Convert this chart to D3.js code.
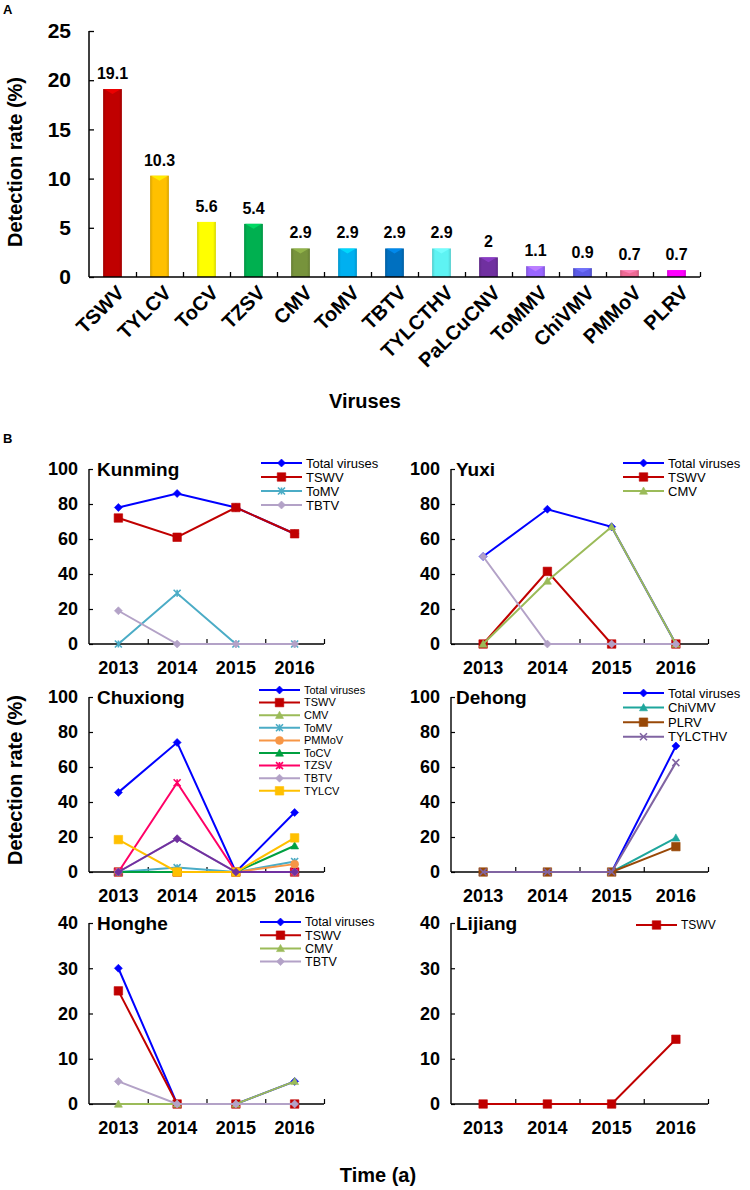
<!DOCTYPE html>
<html><head><meta charset="utf-8">
<script src="https://cdn.jsdelivr.net/npm/d3@7"></script>
<style>
body{margin:0;background:#fff;}
svg{display:block;font-family:"Liberation Sans",Arial,sans-serif;}
</style></head>
<body><svg id="c" width="750" height="1190"></svg>
<script>
// ---------- Panel A data ----------
const virusNames = ["TSWV","TYLCV","ToCV","TZSV","CMV","ToMV","TBTV","TYLCTHV","PaLCuCNV","ToMMV","ChiVMV","PMMoV","PLRV"];
const virusRates = [19.1,10.3,5.6,5.4,2.9,2.9,2.9,2.9,2,1.1,0.9,0.7,0.7];
const barColors = ["#C00000","#FFC000","#FFFF00","#00B050","#77933C","#00B0F0","#0070C0","#5EF3F3","#7030A0","#9966FF","#5B5BE6","#EE6A94","#FF00FF"];
const yTicksA = [0,5,10,15,20,25];

// ---------- Panel B data ----------
const years = ["2013","2014","2015","2016"];
const kunmingTotal = [78, 86, 78, 63];
const kunmingTSWV = [72, 61, 78, 63];
const kunmingToMV = [0, 29, 0, 0];
const kunmingTBTV = [19, 0, 0, 0];

const yuxiTotal = [50, 77, 67, 0];
const yuxiTSWV = [0, 41.5, 0, 0];
const yuxiCMV = [0, 36, 67, 0];
const yuxiTBTV = [50, 0, 0, 0];

const chuxiongTotal = [45.5, 74, 0, 34];
const chuxiongTSWV = [0, 0, 0, 0];
const chuxiongCMV = [0, 0, 0, 0];
const chuxiongToMV = [0, 2.5, 0, 6];
const chuxiongPMMoV = [0, 0, 0, 4.5];
const chuxiongToCV = [0, 0, 0, 15];
const chuxiongTZSV = [0, 51, 0, 0];
const chuxiongTBTV = [0, 19, 0, 0];
const chuxiongTYLCV = [18.5, 0, 0, 19.5];
const chuxiongPaLCuCNV = [0, 19, 0, 0];

const dehongTotal = [0, 0, 0, 72];
const dehongChiVMV = [0, 0, 0, 19.5];
const dehongPLRV = [0, 0, 0, 14.5];
const dehongTYLCTHV = [0, 0, 0, 62.5];

const hongheTotal = [30, 0, 0, 5];
const hongheTSWV = [25, 0, 0, 0];
const hongheCMV = [0, 0, 0, 5];
const hongheTBTV = [5, 0, 0, 0];

const lijiangTSWV = [0, 0, 0, 14.3];

const ticks100 = [0,20,40,60,80,100];
const ticks40 = [0,10,20,30,40];

// series styles
const style = {
  "Total viruses": {color:"#0000FF", marker:"diamond"},
  "TSWV": {color:"#C00000", marker:"square"},
  "CMV": {color:"#9BBB59", marker:"triangle"},
  "ToMV": {color:"#4BACC6", marker:"star"},
  "PMMoV": {color:"#F79646", marker:"circle"},
  "ToCV": {color:"#00A040", marker:"triangle"},
  "TZSV": {color:"#FF0066", marker:"star"},
  "TBTV": {color:"#B3A2C7", marker:"diamond"},
  "TYLCV": {color:"#FFC000", marker:"square"},
  "PaLCuCNV": {color:"#7030A0", marker:"diamond"},
  "ChiVMV": {color:"#1EA69C", marker:"triangle"},
  "PLRV": {color:"#984807", marker:"square"},
  "TYLCTHV": {color:"#8064A2", marker:"x"}
};

const panels = [
  {title:"Kunming", col:0, row:0, max:100, ticks:ticks100,
   series:[["Total viruses",kunmingTotal,true],["TSWV",kunmingTSWV,true],["ToMV",kunmingToMV,true],["TBTV",kunmingTBTV,true]]},
  {title:"Yuxi", col:1, row:0, max:100, ticks:ticks100,
   series:[["Total viruses",yuxiTotal,true],["TSWV",yuxiTSWV,true],["CMV",yuxiCMV,true],["TBTV",yuxiTBTV,false]]},
  {title:"Chuxiong", col:0, row:1, max:100, ticks:ticks100,
   series:[["Total viruses",chuxiongTotal,true],["TSWV",chuxiongTSWV,true],["CMV",chuxiongCMV,true],["ToMV",chuxiongToMV,true],["PMMoV",chuxiongPMMoV,true],["ToCV",chuxiongToCV,true],["TZSV",chuxiongTZSV,true],["TBTV",chuxiongTBTV,true],["TYLCV",chuxiongTYLCV,true],["PaLCuCNV",chuxiongPaLCuCNV,false]]},
  {title:"Dehong", col:1, row:1, max:100, ticks:ticks100,
   series:[["Total viruses",dehongTotal,true],["ChiVMV",dehongChiVMV,true],["PLRV",dehongPLRV,true],["TYLCTHV",dehongTYLCTHV,true]]},
  {title:"Honghe", col:0, row:2, max:40, ticks:ticks40,
   series:[["Total viruses",hongheTotal,true],["TSWV",hongheTSWV,true],["CMV",hongheCMV,true],["TBTV",hongheTBTV,true]]},
  {title:"Lijiang", col:1, row:2, max:40, ticks:ticks40,
   series:[["TSWV",lijiangTSWV,true]]}
];

const svg = d3.select("#c");
const defs = svg.append("defs");

// ============ Panel A ============
svg.append("text").attr("x",3).attr("y",14).attr("font-size",13).attr("font-weight","bold").text("A");

const xA = d3.scaleBand().domain(virusNames).range([89,700]).paddingInner(0.6).paddingOuter(0.3);
const yA = d3.scaleLinear().domain([0,25]).range([277,31]);
const gA = svg.append("g");

barColors.forEach((c,i)=>{
  const g = defs.append("linearGradient").attr("id","bg"+i).attr("x1","0").attr("x2","1").attr("y1","0").attr("y2","0");
  const base = d3.color(c);
  g.append("stop").attr("offset","0").attr("stop-color", base.darker(0.5));
  g.append("stop").attr("offset","0.15").attr("stop-color", base);
  g.append("stop").attr("offset","0.85").attr("stop-color", base);
  g.append("stop").attr("offset","1").attr("stop-color", base.darker(0.5));
});

gA.selectAll("rect.bar").data(virusNames).join("rect").attr("class","bar")
  .attr("x",d=>xA(d)).attr("width",xA.bandwidth())
  .attr("y",(d,i)=>yA(virusRates[i])).attr("height",(d,i)=>yA(0)-yA(virusRates[i]))
  .attr("fill",(d,i)=>`url(#bg${i})`);
gA.selectAll("path.hl").data(virusNames).join("path").attr("class","hl")
  .attr("d",(d,i)=>{
    const x0=xA(d), w=xA.bandwidth(), y0=yA(virusRates[i]);
    const h=Math.min(5, (yA(0)-y0)/2);
    return `M${x0+1},${y0}L${x0+w-1},${y0}L${x0+w/2},${y0+h}Z`;
  })
  .attr("fill",(d,i)=>d3.color(barColors[i]).brighter(0.7)).attr("opacity",0.8);

gA.selectAll("text.val").data(virusNames).join("text").attr("class","val")
  .attr("x",d=>xA(d)+xA.bandwidth()/2).attr("y",(d,i)=>yA(virusRates[i])-10)
  .attr("text-anchor","middle").attr("font-size",16).attr("font-weight","bold")
  .text((d,i)=>virusRates[i]);

const yAxA = gA.append("g").attr("transform","translate(89,0)")
  .call(d3.axisLeft(yA).tickValues(yTicksA).tickSize(-5).tickPadding(18).tickFormat(d3.format("d")));
yAxA.select(".domain").attr("stroke","#000").attr("stroke-width",1.5).attr("d","M0,31V277");
yAxA.selectAll("text").attr("font-size",21).attr("font-weight","bold").attr("fill","#000").attr("font-family","Liberation Sans, Arial, sans-serif");
yAxA.selectAll("line").attr("stroke-width",1.3);

const idxA = d3.scaleLinear().domain([0,virusNames.length]).range([89,700]);
const xAxA = gA.append("g").attr("transform","translate(0,277)")
  .call(d3.axisBottom(idxA).tickValues(d3.range(1,virusNames.length+1)).tickSize(-5).tickFormat(""));
xAxA.select(".domain").attr("stroke-width",1.5).attr("d","M89,0H700");
xAxA.selectAll("line").attr("stroke-width",1.3);

gA.selectAll("text.cat").data(virusNames).join("text").attr("class","cat")
  .attr("transform",d=>`translate(${xA(d)+xA.bandwidth()/2+8},${289}) rotate(-45)`)
  .attr("text-anchor","end").attr("dy","0.35em").attr("font-size",20).attr("font-weight","bold")
  .text(d=>d);

svg.append("text").attr("transform","translate(22,162) rotate(-90)").attr("text-anchor","middle")
  .attr("font-size",20).attr("font-weight","bold").text("Detection rate (%)");
svg.append("text").attr("x",365).attr("y",408).attr("text-anchor","middle")
  .attr("font-size",20).attr("font-weight","bold").text("Viruses");

// ============ Panel B ============
svg.append("text").attr("x",3).attr("y",443).attr("font-size",13).attr("font-weight","bold").text("B");

const colX = [[89,324],[451,708]];
const rowY = [[469,644],[697,872],[923,1104]];
const legendPos = [
  {x:261, y:463, dy:14, fs:13},{x:623, y:463, dy:14, fs:13},
  {x:259, y:690, dy:12.6, fs:11},{x:623, y:693, dy:14.6, fs:13},
  {x:260, y:922, dy:13.2, fs:12.5},{x:636, y:925, dy:14, fs:12}
];

function markerPath(type, s){
  const h=s/2;
  switch(type){
    case "diamond": return `M0,${-h}L${h},0L0,${h}L${-h},0Z`;
    case "square": return `M${-h},${-h}H${h}V${h}H${-h}Z`;
    case "triangle": return `M0,${-h}L${h},${h*0.8}L${-h},${h*0.8}Z`;
    case "circle": return d3.symbol(d3.symbolCircle, Math.PI*h*h)();
    case "star": return `M${-h},${-h}L${h},${h}M${h},${-h}L${-h},${h}M0,${-h}V${h}`;
    case "x": return `M${-h},${-h}L${h},${h}M${h},${-h}L${-h},${h}`;
  }
}
const markerSize = {diamond:8, square:8.5, triangle:8, circle:8, star:7, x:7};
function drawMarker(g, name, x, y){
  const st = style[name];
  const stroke = (st.marker==="star"||st.marker==="x");
  g.append("path").attr("transform",`translate(${x},${y})`)
    .attr("d",markerPath(st.marker, markerSize[st.marker]))
    .attr("fill", stroke?"none":st.color)
    .attr("stroke", st.color).attr("stroke-width", stroke?1.6:0.6);
}

panels.forEach((p,pi)=>{
  const [x0,x1] = colX[p.col];
  const [yt,yb] = rowY[p.row];
  const g = svg.append("g");
  const x = d3.scaleBand().domain(years).range([x0,x1]);
  const y = d3.scaleLinear().domain([0,p.max]).range([yb,yt]);
  const idx = d3.scaleLinear().domain([0,years.length]).range([x0,x1]);

  const ya = g.append("g").attr("transform",`translate(${x0},0)`)
    .call(d3.axisLeft(y).tickValues(p.ticks).tickSize(-4).tickPadding(11));
  ya.select(".domain").attr("stroke-width",1.4).attr("d",`M0,${yt}V${yb}`);
  ya.selectAll("line").attr("stroke-width",1.2);
  ya.selectAll("text").attr("font-size",18).attr("font-weight","bold").attr("fill","#000").attr("font-family","Liberation Sans, Arial, sans-serif");

  const xa = g.append("g").attr("transform",`translate(0,${yb})`)
    .call(d3.axisBottom(idx).tickValues(d3.range(1,years.length+1)).tickSize(-5).tickFormat(""));
  xa.select(".domain").attr("stroke-width",1.4).attr("d",`M${x0},0H${x1}`);
  xa.selectAll("line").attr("stroke-width",1.2);
  const xl = g.append("g").attr("transform",`translate(0,${yb})`)
    .call(d3.axisBottom(x).tickSize(0).tickPadding(17));
  xl.select(".domain").remove();
  xl.selectAll("text").attr("font-size",18).attr("font-weight","bold").attr("fill","#000").attr("font-family","Liberation Sans, Arial, sans-serif");

  g.append("text").attr("x",x0+ (p.col===0?8:5)).attr("y",yt+7).attr("font-size",19).attr("font-weight","bold").text(p.title);

  const line = d3.line().x((d,i)=>x(years[i])+x.bandwidth()/2).y(d=>y(d));
  p.series.forEach(([name,vals])=>{
    const st = style[name];
    g.append("path").attr("d",line(vals)).attr("fill","none").attr("stroke",st.color).attr("stroke-width",2);
    vals.forEach((v,i)=>drawMarker(g,name,x(years[i])+x.bandwidth()/2,y(v)));
  });

  const lp = legendPos[pi];
  let k=0;
  p.series.forEach(([name,vals,show])=>{
    if(!show) return;
    const ly = lp.y + k*lp.dy;
    const st = style[name];
    g.append("line").attr("x1",lp.x).attr("x2",lp.x+41).attr("y1",ly).attr("y2",ly).attr("stroke",st.color).attr("stroke-width",2);
    drawMarker(g,name,lp.x+20.5,ly);
    g.append("text").attr("x",lp.x+45).attr("y",ly).attr("dy","0.35em").attr("font-size",lp.fs).text(name);
    k++;
  });
});

svg.append("text").attr("transform","translate(22,780) rotate(-90)").attr("text-anchor","middle")
  .attr("font-size",20).attr("font-weight","bold").text("Detection rate (%)");
svg.append("text").attr("x",378).attr("y",1182).attr("text-anchor","middle")
  .attr("font-size",20).attr("font-weight","bold").text("Time (a)");
</script></body></html>
